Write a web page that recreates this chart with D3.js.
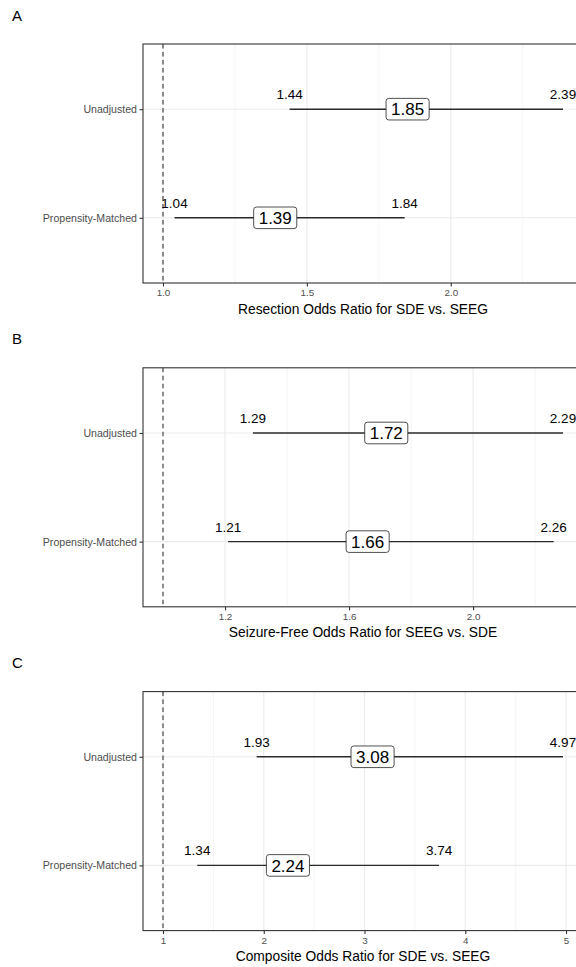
<!DOCTYPE html>
<html>
<head>
<meta charset="utf-8">
<script src="https://cdn.jsdelivr.net/npm/d3@7"></script>
<style>
  html, body { margin: 0; padding: 0; background: #fff; overflow: hidden; }
  svg { display: block; font-family: "Liberation Sans", Arial, sans-serif; }
</style>
</head>
<body>
<div id="chart"></div>
<script>
// Chart data
const panelLetters = ["A", "B", "C"];
const categories = ["Unadjusted", "Propensity-Matched"];

const resectionOR = [1.85, 1.39];
const resectionLower = [1.44, 1.04];
const resectionUpper = [2.39, 1.84];

const seizureFreeOR = [1.72, 1.66];
const seizureFreeLower = [1.29, 1.21];
const seizureFreeUpper = [2.29, 2.26];

const compositeOR = [3.08, 2.24];
const compositeLower = [1.93, 1.34];
const compositeUpper = [4.97, 3.74];

const axisTitles = [
  "Resection Odds Ratio for SDE vs. SEEG",
  "Seizure-Free Odds Ratio for SEEG vs. SDE",
  "Composite Odds Ratio for SDE vs. SEEG"
];
const majorTicks = [[1.0, 1.5, 2.0], [1.2, 1.6, 2.0], [1, 2, 3, 4, 5]];
const minorTicks = [[1.25, 1.75, 2.25], [1.4, 1.8, 2.2], [1.5, 2.5, 3.5, 4.5]];
const tickFormats = [".1f", ".1f", "d"];
const refLine = 1;

const series = [
  { or: resectionOR, lo: resectionLower, hi: resectionUpper },
  { or: seizureFreeOR, lo: seizureFreeLower, hi: seizureFreeUpper },
  { or: compositeOR, lo: compositeLower, hi: compositeUpper }
];

const W = 576, H = 967;
const svg = d3.select("#chart").append("svg")
  .attr("width", W)
  .attr("height", H);

const panelLeft = 143, panelRight = 583, panelH = 239;
const gridCol = "#EBEBEB", inkCol = "#333333";

series.forEach((s, i) => {
  const top = 44 + i * 323.8;
  const g = svg.append("g");

  const lo = Math.min(refLine, d3.min(s.lo));
  const hi = Math.max(refLine, d3.max(s.hi));
  const pad = (hi - lo) * 0.05;
  const x = d3.scaleLinear().domain([lo - pad, hi + pad]).range([panelLeft, panelRight]);
  const y = d3.scalePoint().domain(categories).range([top, top + panelH]).padding(0.6);

  // panel letter
  g.append("text")
    .attr("x", 12).attr("y", top - 23.5)
    .attr("font-size", 15).attr("fill", "#000")
    .text(panelLetters[i]);

  // grid lines
  g.append("g").selectAll("line.minor").data(minorTicks[i]).join("line")
    .attr("x1", d => x(d)).attr("x2", d => x(d))
    .attr("y1", top).attr("y2", top + panelH)
    .attr("stroke", gridCol).attr("stroke-width", 0.55);
  g.append("g").selectAll("line.major").data(majorTicks[i]).join("line")
    .attr("x1", d => x(d)).attr("x2", d => x(d))
    .attr("y1", top).attr("y2", top + panelH)
    .attr("stroke", gridCol).attr("stroke-width", 1.1);
  g.append("g").selectAll("line").data(categories).join("line")
    .attr("x1", panelLeft).attr("x2", panelRight)
    .attr("y1", d => y(d)).attr("y2", d => y(d))
    .attr("stroke", gridCol).attr("stroke-width", 1.1);

  // reference line
  g.append("line")
    .attr("x1", x(refLine)).attr("x2", x(refLine))
    .attr("y1", top).attr("y2", top + panelH)
    .attr("stroke", inkCol).attr("stroke-width", 1.1)
    .attr("stroke-dasharray", "4.5,3.5");

  // interval segments
  g.append("g").selectAll("line").data(categories).join("line")
    .attr("x1", (d, j) => x(s.lo[j])).attr("x2", (d, j) => x(s.hi[j]))
    .attr("y1", d => y(d)).attr("y2", d => y(d))
    .attr("stroke", "#2b2b2b").attr("stroke-width", 1.4);

  // bound labels
  const bounds = [];
  categories.forEach((c, j) => {
    bounds.push({ c, v: s.lo[j] });
    bounds.push({ c, v: s.hi[j] });
  });
  g.append("g").selectAll("text").data(bounds).join("text")
    .attr("x", d => x(d.v)).attr("y", d => y(d.c) - 10)
    .attr("text-anchor", "middle")
    .attr("font-size", 13.5).attr("fill", "#000")
    .text(d => d3.format(".2f")(d.v));

  // point estimate labels
  const labs = g.append("g").selectAll("g").data(categories).join("g")
    .attr("transform", (d, j) => `translate(${x(s.or[j])},${y(d)})`);
  labs.append("rect");
  labs.append("text")
    .attr("text-anchor", "middle").attr("dy", "0.36em")
    .attr("font-size", 17).attr("fill", "#000")
    .text((d, j) => d3.format(".2f")(s.or[j]));
  labs.each(function () {
    const b = d3.select(this).select("text").node().getBBox();
    d3.select(this).select("rect")
      .attr("x", b.x - 5).attr("y", -10.8)
      .attr("width", b.width + 10).attr("height", 21.6)
      .attr("rx", 2.8).attr("ry", 2.8)
      .attr("fill", "#fff").attr("stroke", "#222").attr("stroke-width", 0.8);
  });

  // panel border
  g.append("rect")
    .attr("x", panelLeft).attr("y", top)
    .attr("width", panelRight - panelLeft).attr("height", panelH)
    .attr("fill", "none").attr("stroke", inkCol).attr("stroke-width", 1.1);

  // axes
  const xAxis = g.append("g")
    .attr("transform", `translate(0,${top + panelH})`)
    .call(d3.axisBottom(x).tickValues(majorTicks[i])
      .tickFormat(d3.format(tickFormats[i])).tickSize(3.5).tickPadding(3));
  xAxis.select(".domain").remove();
  xAxis.selectAll(".tick line").attr("stroke", inkCol).attr("stroke-width", 1.1);
  xAxis.selectAll(".tick text").attr("font-size", 9.8).attr("fill", "#4D4D4D")
    .attr("font-family", "Liberation Sans, Arial, sans-serif");

  const yAxis = g.append("g")
    .attr("transform", `translate(${panelLeft},0)`)
    .call(d3.axisLeft(y).tickSize(3.5).tickPadding(2.5));
  yAxis.select(".domain").remove();
  yAxis.selectAll(".tick line").attr("stroke", inkCol).attr("stroke-width", 1.1);
  yAxis.selectAll(".tick text").attr("font-size", 10.6).attr("fill", "#4D4D4D")
    .attr("font-family", "Liberation Sans, Arial, sans-serif");

  // axis title
  g.append("text")
    .attr("x", (panelLeft + panelRight) / 2).attr("y", top + panelH + 30.5)
    .attr("text-anchor", "middle")
    .attr("font-size", 13.8).attr("fill", "#000")
    .text(axisTitles[i]);
});
</script>
</body>
</html>
